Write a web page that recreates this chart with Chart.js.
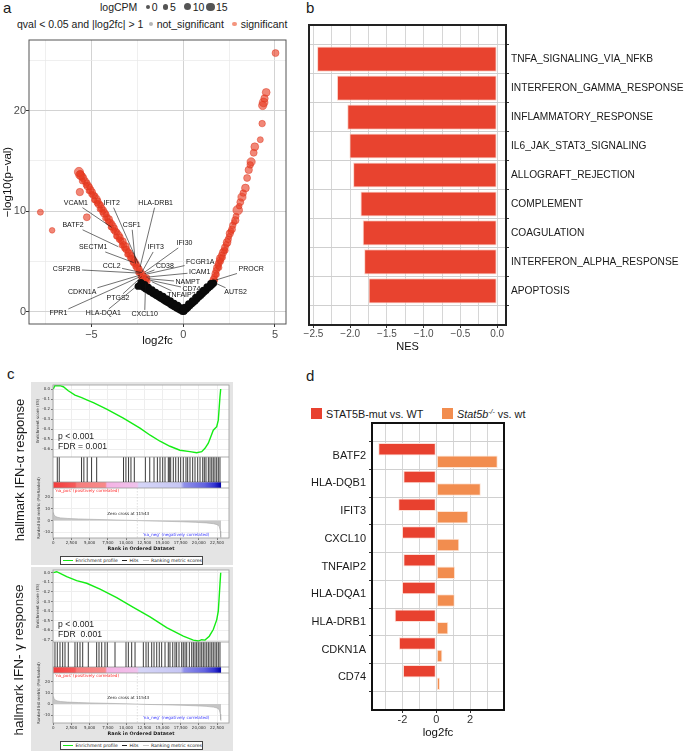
<!DOCTYPE html>
<html><head><meta charset="utf-8">
<script src="https://cdn.jsdelivr.net/npm/chart.js@4.4.1/dist/chart.umd.min.js"></script>
<style>
html,body{margin:0;padding:0}
body{width:685px;height:751px;position:relative;overflow:hidden;background:#fff;font-family:"Liberation Sans",Arial,sans-serif}
canvas{position:absolute}
.t{position:absolute;white-space:nowrap;line-height:1;color:#1a1a1a}
.bx{position:absolute}
</style></head><body>
<script>
// ================= DATA =================
// Panel a: volcano (significant points: log2fc, -log10 p, logCPM)
const sigX = [-1.95,-2.0,-2.05,-2.1,-2.15,-2.2,-2.25,-2.3,-2.35,-2.4,-2.45,-2.5,-2.55,-2.6,-2.65,-2.7,-2.75,-2.8,-2.85,-2.9,-2.95,-3.0,-3.05,-3.1,-3.15,-3.2,-3.25,-3.3,-3.35,-3.4,-3.45,-3.5,-3.55,-3.6,-3.65,-3.7,-3.75,-3.8,-3.85,-3.9,-3.95,-4.0,-4.05,-4.1,-4.15,-4.2,-4.25,-4.3,-4.35,-4.4,-4.45,-4.5,-4.55,-4.6,-4.65,-4.7,-4.75,-4.8,-4.85,-4.9,-4.95,-5.0,-5.05,-5.1,-5.15,-5.2,-5.25,-5.3,-5.35,-5.45,-5.5,-5.55,-5.6,-5.68,-5.62,
  -7.78,-7.14,-5.25,-5.63,
  1.6,1.66,1.7,1.72,1.75,1.8,1.82,1.85,1.9,1.93,1.96,1.98,2.02,2.05,2.1,2.14,2.17,2.22,2.27,2.3,2.35,2.39,2.45,2.5,2.54,2.6,2.66,2.7,2.78,2.84,2.88,2.97,3.05,3.11,3.2,3.27,3.39,3.48,3.57,3.65,3.7,3.84,3.9,4.2,4.3,4.33,4.38,4.43,4.52,5.03];
const sigY = [3.05,3.35,2.95,3.2,3.55,3.3,3.75,3.5,4.0,4.3,3.9,4.4,4.7,4.5,4.9,5.2,4.9,5.3,5.6,5.4,5.8,6.0,5.7,6.2,6.5,6.3,6.7,7.0,6.6,7.1,7.4,7.2,7.6,7.9,7.5,8.0,8.3,8.1,8.5,8.8,8.4,8.9,9.2,9.0,9.4,9.7,9.3,9.8,10.1,9.9,10.3,10.6,10.2,10.7,11.0,10.8,11.2,11.5,11.1,11.6,11.9,11.7,12.1,12.4,12.0,12.5,12.8,12.6,13.0,13.3,13.0,13.5,13.7,13.9,13.6,
  9.9,8.1,9.4,11.9,
  3.0,3.2,3.5,3.1,3.8,4.1,3.7,4.4,4.6,4.8,4.4,5.1,5.3,5.0,5.6,5.4,5.9,6.1,6.4,6.1,6.7,6.9,7.2,7.5,7.8,8.0,8.2,8.6,8.9,9.1,9.5,10.1,10.5,10.9,11.4,11.8,12.3,13.3,14.1,14.6,14.9,15.8,16.4,17.1,18.7,20.5,20.8,21.2,21.8,25.7];
const sigCPM = [6,9,5,11,7,8,10,6,9,7,5,10,8,6,11,7,5,9,8,6,10,7,5,9,11,6,8,10,5,7,9,6,12,7,5,9,8,6,11,7,5,9,10,6,8,7,5,11,8,6,9,7,5,10,8,6,12,7,5,9,8,6,10,7,5,11,8,6,9,10,7,12,9,14,13,
  7,6,9,10,
  8,10,7,6,9,8,6,10,7,9,6,8,11,6,9,7,10,8,9,6,7,11,8,6,10,7,9,8,6,10,7,15,6,9,12,8,11,9,10,8,12,9,11,7,8,12,13,10,11,9];
// not significant points
const nsX = [-0.05,-0.15,-0.25,-0.35,-0.45,-0.55,-0.65,-0.75,-0.85,-0.95,-1.05,-1.15,-1.25,-1.35,-1.45,-1.55,-1.65,-1.75,-1.85,-1.95,-2.05,-2.15,-2.25,-2.35,
  -0.1,-0.3,-0.5,-0.7,-0.9,-1.1,-1.3,-1.5,-1.7,-1.9,-2.1,-2.3,-2.45,
  0.05,0.15,0.25,0.35,0.45,0.55,0.65,0.75,0.85,0.95,1.05,1.15,1.25,1.35,1.45,1.55,1.65,
  0.1,0.3,0.5,0.7,0.9,1.1,1.3,1.5, 0,-0.02,0.02];
const nsY = [0.1,0.2,0.3,0.4,0.5,0.62,0.72,0.85,0.95,1.07,1.18,1.3,1.4,1.52,1.63,1.75,1.86,1.97,2.08,2.2,2.3,2.42,2.55,2.65,
  0.4,0.65,0.85,1.1,1.3,1.55,1.75,1.95,2.2,2.45,2.7,2.9,2.55,
  0.1,0.27,0.43,0.6,0.78,0.95,1.12,1.3,1.47,1.64,1.82,1.99,2.16,2.34,2.51,2.68,2.85,
  0.45,0.8,1.1,1.45,1.8,2.15,2.5,2.8, 0.05,0.3,0.3];
const volcXTicks = [-7.5,-5,-2.5,0,2.5,5];
const volcXLabels = ['','\u22125','','0','','5'];
const volcYTicks = [0,5,10,15,20,25];
const volcYLabels = ['0','','10','','20',''];
// gene labels: text position and labelled point (data units)
const geneNames = ['VCAM1','IFIT2','HLA-DRB1','BATF2','CSF1','SECTM1','IFIT3','IFI30','CSF2RB','CCL2','CD38','FCGR1A','ICAM1','PROCR','NAMPT','CD74','AUTS2','TNFAIP2','CDKN1A','PTGS2','FPR1','HLA-DQA1','CXCL10'];
const geneTextX = [-5.85,-3.9,-1.5,-6.0,-2.8,-4.9,-1.5,0.07,-6.35,-3.9,-1.0,0.93,0.9,3.7,0.25,0.45,2.85,-0.1,-5.5,-3.55,-6.8,-4.35,-2.1];
const geneTextY = [10.8,10.8,10.8,8.6,8.6,6.4,6.4,6.8,4.25,4.55,4.55,4.95,3.95,4.25,2.95,2.25,1.95,1.65,1.95,1.35,-0.15,-0.15,-0.25];
const genePtX = [-3.9,-2.45,-2.35,-3.53,-2.6,-2.7,-2.25,-2.1,-2.35,-2.25,-2.1,-2.0,-2.0,1.75,-1.9,-1.8,1.64,-1.71,-2.35,-2.26,-2.35,-2.35,-2.05];
const genePtY = [8.4,4.8,4.45,6.47,4.8,4.9,3.95,3.95,3.85,3.9,3.8,3.75,3.45,3.15,3.3,3.15,2.95,3.0,3.65,3.5,3.5,2.83,2.85];

// Panel b: GSEA hallmark NES
const pathways = ['TNFA_SIGNALING_VIA_NFKB','INTERFERON_GAMMA_RESPONSE','INFLAMMATORY_RESPONSE','IL6_JAK_STAT3_SIGNALING','ALLOGRAFT_REJECTION','COMPLEMENT','COAGULATION','INTERFERON_ALPHA_RESPONSE','APOPTOSIS'];
const nesValues = [-2.45,-2.18,-2.04,-2.01,-1.96,-1.86,-1.83,-1.81,-1.75];
const nesTicks = [-2.5,-2.25,-2,-1.75,-1.5,-1.25,-1,-0.75,-0.5,-0.25,0];
const nesLabels = ['\u22122.5','','\u22122.0','','\u22121.5','','\u22121.0','','\u22120.5','','0.0'];

// Panel c: GSEA enrichment plots
const rankTicks = [0,2500,5000,7500,10000,12500,15000,17500,20000,22500];
const esRankA = [0,230,920,1380,2060,2980,3900,4670,5500,7330,9620,11910,13310,14660,16030,17400,18780,19700,20390,20840,21300,21980,22450,22670,22900,23000];
const esA = [0,0.035,0.033,0.023,-0.017,-0.06,-0.086,-0.11,-0.136,-0.2,-0.29,-0.39,-0.46,-0.52,-0.57,-0.61,-0.624,-0.634,-0.624,-0.59,-0.54,-0.41,-0.375,-0.31,-0.077,0];
const hitsA = [550,820,3880,4200,4660,5260,5960,9650,9980,10340,10670,11130,12650,13250,13840,14300,14660,15030,15350,15800,15940,16130,16490,16820,17180,17500,17860,18230,18460,18780,19150,19470,19840,20160,20530,20750,20980,21300,21530,21770,21980,22210,22450,22670,22900];
const esTicksA = [0,-0.1,-0.2,-0.3,-0.4,-0.5,-0.6];
const esRankG = [0,470,1150,1840,3210,4590,6420,8710,11000,13290,15580,17860,19240,19920,20390,20840,21430,21980,22450,22670,22900,23000];
const esG = [0,0.01,-0.014,-0.042,-0.083,-0.11,-0.17,-0.26,-0.36,-0.46,-0.57,-0.66,-0.70,-0.71,-0.696,-0.70,-0.66,-0.59,-0.49,-0.40,-0.12,0];
const hitsG = [230,550,920,1290,1610,2060,2980,3300,3670,4040,4810,5960,6280,6650,7100,7420,8480,9990,10310,10770,11230,12370,12740,13050,13520,13840,14210,14560,14890,15350,15800,16030,16410,16720,16950,17270,17640,17860,18100,18330,18690,19020,19240,19470,19700,19920,20160,20390,20610,20840,21080,21300,21530,21770,21980,22220,22450,22670,22900];
const esTicksG = [0,-0.1,-0.2,-0.3,-0.4,-0.5,-0.6,-0.7];
const rankX = [0,100,300,600,1000,2000,3500,5000,7500,10000,11543,13000,15000,17500,19500,21000,22000,22500,22800,22950,23000,23050];
const rankY = [7,5,3.5,2.8,2.3,1.8,1.4,1.1,0.7,0.3,0,-0.3,-0.6,-1.0,-1.5,-2.0,-2.7,-3.5,-5,-9,-14,-15];
const rankMetricTicks = [-10,0,10,20];
const zeroCross = 11543;
const listSize = 23050;
const barStopPos = [0,0.13,0.14,0.31,0.32,0.5,0.51,0.76,0.78,0.9,0.96,1];
const barStopCol = ['#f43c3c','#f65a5a','#f77c7c','#f98a8a','#f5b2e4','#f0c2ec','#d6d6f8','#c6c6f4','#9090ea','#6464e0','#3434d2','#0000a8'];

// Panel d: selected genes log2fc
const genesD = ['BATF2','HLA-DQB1','IFIT3','CXCL10','TNFAIP2','HLA-DQA1','HLA-DRB1','CDKN1A','CD74'];
const mutFC = [-3.43,-1.95,-2.25,-2.03,-1.95,-2.03,-2.46,-2.21,-1.97];
const koFC = [3.63,2.63,1.89,1.36,1.11,1.09,0.71,0.36,0.22];
const dTicks = [-3,-2,-1,0,1,2,3];
const dLabels = ['','-2','','0','','2',''];

// ================= HELPERS =================
Chart.defaults.font.family = '"Liberation Sans", Arial, sans-serif';
Chart.defaults.color = '#222';
Chart.defaults.animation = false;
Chart.defaults.events = [];
Chart.defaults.layout.autoPadding = false;
Chart.defaults.plugins.legend.display = false;
Chart.defaults.plugins.tooltip.enabled = false;

function mk(left, top, w, h, cfg){
  const c = document.createElement('canvas');
  c.width = w; c.height = h; c.style.left = left+'px'; c.style.top = top+'px';
  c.style.width = w+'px'; c.style.height = h+'px';
  document.body.appendChild(c);
  cfg.options = cfg.options || {};
  cfg.options.responsive = false;
  cfg.options.maintainAspectRatio = false;
  cfg.options.devicePixelRatio = 1;
  return new Chart(c, cfg);
}
function zp(s){ s.paddingLeft=0; s.paddingRight=0; s.paddingTop=0; s.paddingBottom=0; }
function setTicks(arr){ return s => { s.ticks = arr.map(v => ({value:v})); }; }
function frame(color, lw, id){ return {id:id||'frame', afterDraw(c){ const a=c.chartArea, x=c.ctx; x.save(); x.strokeStyle=color; x.lineWidth=lw; x.strokeRect(a.left, a.top, a.right-a.left, a.bottom-a.top); x.restore(); }}; }
const whiteBg = {id:'whiteBg', beforeDraw(c){ const a=c.chartArea, x=c.ctx; x.save(); x.fillStyle='#fff'; x.fillRect(a.left, a.top, a.right-a.left, a.bottom-a.top); x.restore(); }};
function el(tag, css, html){ const d=document.createElement(tag); d.style.cssText=css; if(html!==undefined) d.innerHTML=html; document.body.appendChild(d); return d; }
function txt(s, x, base, size, o){
  o = o || {};
  const d = document.createElement('div'); d.className='t'; d.innerHTML = s;
  d.style.fontSize = size+'px'; d.style.left = x+'px'; d.style.top = (base-0.8465*size)+'px';
  if(o.anchor==='middle') d.style.transform='translateX(-50%)';
  if(o.anchor==='end') d.style.transform='translateX(-100%)';
  if(o.color) d.style.color=o.color; if(o.weight) d.style.fontWeight=o.weight;
  if(o.family) d.style.fontFamily=o.family; if(o.style) d.style.fontStyle=o.style;
  document.body.appendChild(d); return d;
}
function vtxt(s, cx, cy, size, o){
  o = o || {};
  const d = document.createElement('div'); d.className='t'; d.innerHTML = s;
  d.style.fontSize = size+'px'; d.style.left = cx+'px'; d.style.top = cy+'px';
  d.style.transform = 'translate(-50%,-50%) rotate(-90deg)';
  if(o.color) d.style.color=o.color; if(o.family) d.style.fontFamily=o.family;
  document.body.appendChild(d); return d;
}
function dot(cx, cy, r, col){ el('div', `position:absolute;left:${cx-r}px;top:${cy-r}px;width:${2*r}px;height:${2*r}px;border-radius:50%;background:${col}`); }

// ================= PANEL LABELS =================
txt('a', 3, 12.7, 15);
txt('b', 306, 13, 15);
txt('c', 7, 378.5, 15);
txt('d', 306, 381, 15);

// ================= PANEL A =================
txt('logCPM', 100, 10.7, 10.5, {color:'#222'});
dot(147.7, 6.8, 2, '#555'); txt('0', 151.7, 10.7, 10.5);
dot(165.7, 6.8, 2.8, '#555'); txt('5', 170, 10.7, 10.5);
dot(187.7, 6.8, 3.6, '#555'); txt('10', 192.7, 10.7, 10.5);
dot(210.7, 6.8, 4.3, '#555'); txt('15', 216, 10.7, 10.5);
txt('qval &lt; 0.05 and |log2fc| &gt; 1', 17, 27.5, 10.5);
dot(151, 24, 2.4, '#b5b5b5'); txt('not_significant', 156.7, 27.5, 10.5);
dot(234.3, 24, 2.4, '#f4957e'); txt('significant', 240.7, 27.5, 10.5);

const gridMaj = (majors) => ({
  color: c => (c.tick && majors.includes(c.tick.value)) ? '#d3d3d3' : '#e8e8e8',
  lineWidth: c => (c.tick && majors.includes(c.tick.value)) ? 1 : 0.7,
  tickColor: c => (c.tick && majors.includes(c.tick.value)) ? '#333' : 'rgba(0,0,0,0)',
  tickLength: 3
});
const geneLabelPlugin = {id:'geneLabels', afterDatasetsDraw(chart){
  const ctx = chart.ctx, xs = chart.scales.x, ys = chart.scales.y;
  ctx.save();
  ctx.font = '7px "Liberation Sans", Arial, sans-serif';
  ctx.textAlign = 'center'; ctx.textBaseline = 'middle';
  ctx.strokeStyle = '#111'; ctx.lineWidth = 0.6; ctx.fillStyle = '#111';
  geneNames.forEach((g, i) => {
    const tx = xs.getPixelForValue(geneTextX[i]), ty = ys.getPixelForValue(geneTextY[i]);
    const px = xs.getPixelForValue(genePtX[i]), py = ys.getPixelForValue(genePtY[i]);
    const hw = ctx.measureText(g).width/2 + 1.5, hh = 4.5;
    const dx = px - tx, dy = py - ty;
    const t = Math.min(dx ? hw/Math.abs(dx) : Infinity, dy ? hh/Math.abs(dy) : Infinity);
    if (t < 1) { ctx.beginPath(); ctx.moveTo(tx+dx*t, ty+dy*t); ctx.lineTo(px, py); ctx.stroke(); }
    ctx.fillText(g, tx, ty);
  });
  ctx.restore();
}};
mk(0, 0, 300, 360, {
  type:'bubble',
  data:{datasets:[
    {data: nsX.map((x,i)=>({x, y:nsY[i], r:3.6})), backgroundColor:'#0a0a0a', borderWidth:0},
    {data: sigX.map((x,i)=>({x, y:sigY[i], r:1.5+sigCPM[i]*0.22})), backgroundColor:'rgba(232,62,36,0.62)', borderColor:'rgba(222,52,30,0.8)', borderWidth:0.6}
  ]},
  options:{
    layout:{padding:{top:40, right:14, left:0, bottom:0}},
    scales:{
      x:{type:'linear', min:-8.4, max:5.6, afterBuildTicks:setTicks(volcXTicks),
        ticks:{autoSkip:false, maxRotation:0, font:{size:11}, color:'#4d4d4d', padding:1, callback:v=>volcXLabels[volcXTicks.indexOf(v)]},
        grid:gridMaj([-5,0,5]), border:{display:false},
        title:{display:true, text:'log2fc', font:{size:11.5}, color:'#111', padding:{top:0,bottom:12}},
        afterFit(s){ s.height=36; zp(s); }},
      y:{type:'linear', min:-1.2, max:27, afterBuildTicks:setTicks(volcYTicks),
        ticks:{autoSkip:false, font:{size:11}, color:'#4d4d4d', padding:0, callback:v=>volcYLabels[volcYTicks.indexOf(v)]},
        grid:gridMaj([0,10,20]), border:{display:false},
        title:{display:true, text:'\u2212log10(p\u2212val)', font:{size:11.5}, color:'#111', padding:{top:1,bottom:0}},
        afterFit(s){ s.width=29; zp(s); }}
    }
  },
  plugins:[geneLabelPlugin, frame('#555',1)]
});

// ================= PANEL B =================
mk(300, 0, 385, 360, {
  type:'bar',
  data:{datasets:[{data: nesValues.map((v,i)=>({x:v, y:i})), backgroundColor:'#e8432f', borderColor:'#fbd6cc', borderWidth:1, borderSkipped:false, categoryPercentage:0.87, barPercentage:1}]},
  options:{
    indexAxis:'y',
    layout:{padding:{left:9, top:25, right:0, bottom:0}},
    scales:{
      x:{type:'linear', min:-2.56, max:0.12, afterBuildTicks:setTicks(nesTicks),
        ticks:{autoSkip:false, maxRotation:0, font:{size:10}, color:'#4d4d4d', padding:0, callback:v=>nesLabels[nesTicks.indexOf(v)]},
        grid:{color:'#d6d6d6', lineWidth:1, tickColor:c=>(c.tick && nesLabels[nesTicks.indexOf(c.tick.value)])?'#333':'rgba(0,0,0,0)', tickLength:3},
        border:{display:false},
        title:{display:true, text:'NES', font:{size:11}, color:'#111', padding:{top:0,bottom:6.5}},
        afterFit(s){ s.height=35; zp(s); }},
      y:{type:'linear', position:'right', reverse:true, min:-0.6, max:8.6, afterBuildTicks:setTicks([0,1,2,3,4,5,6,7,8]),
        ticks:{autoSkip:false, font:{size:10.2}, color:'#1a1a1a', padding:2, callback:v=>pathways[v]},
        grid:{color:'#cfcfcf', tickColor:'#333', tickLength:3}, border:{display:false},
        afterFit(s){ s.width=179; zp(s); }}
    }
  },
  plugins:[frame('#222',2)]
});

// ================= PANEL C =================
function gsea(T, esR, esV, esMin, esMax, esTickVals, hits, rkMin, rkMax){
  const X = extra => Object.assign({type:'linear', min:-40, max:24140, afterBuildTicks:setTicks(rankTicks)}, extra);
  // ES
  mk(30, T-2, 205, 74, {
    type:'line',
    data:{datasets:[{data: esR.map((x,i)=>({x, y:esV[i]})), borderColor:'#14ec14', borderWidth:1.4, pointRadius:0, tension:0}]},
    options:{
      layout:{padding:{top:2, right:6, left:0, bottom:0}},
      scales:{
        x:X({ticks:{display:false}, grid:{color:'#eeeeee', drawTicks:false}, border:{display:false}, afterFit(s){ s.height=0; zp(s); }}),
        y:{type:'linear', min:esMin, max:esMax, afterBuildTicks:setTicks(esTickVals),
          ticks:{autoSkip:false, font:{size:4, family:'"DejaVu Sans"'}, color:'#333', padding:1, callback:v=>v.toFixed(1)},
          grid:{color:'#eeeeee', tickLength:2, tickColor:'#777'}, border:{display:false},
          title:{display:true, text:'Enrichment score (ES)', font:{size:4, family:'"DejaVu Sans"'}, color:'#333', padding:{top:6,bottom:0}},
          afterFit(s){ s.width=23; zp(s); }}
      }
    },
    plugins:[whiteBg, frame('#9a9a9a',0.8,'f1')]
  });
  // Hits + colour bar
  const colorBar = {id:'colorBar', beforeDatasetsDraw(c){
    const ctx=c.ctx, xs=c.scales.x, ys=c.scales.y, a=c.chartArea;
    const x0=xs.getPixelForValue(0), x1=xs.getPixelForValue(listSize);
    const yTop=ys.getPixelForValue(6), yBot=ys.getPixelForValue(0);
    const g=ctx.createLinearGradient(x0,0,x1,0);
    barStopPos.forEach((p,i)=>g.addColorStop(p, barStopCol[i]));
    ctx.save(); ctx.fillStyle=g; ctx.fillRect(x0, yTop, x1-x0, yBot-yTop);
    ctx.strokeStyle='#9a9a9a'; ctx.lineWidth=0.8;
    ctx.beginPath(); ctx.moveTo(a.left, yTop); ctx.lineTo(a.right, yTop); ctx.stroke();
    ctx.restore();
  }};
  mk(30, T+72, 205, 31, {
    type:'scatter',
    data:{datasets:[{data: hits.map(x=>({x, y:18.5})), pointStyle:'line', pointRotation:90, pointRadius:12.5, pointBorderWidth:1, pointBorderColor:'rgba(15,15,15,0.82)', borderColor:'rgba(15,15,15,0.82)', clip:false}]},
    options:{
      layout:{autoPadding:false, padding:{top:0, right:6, left:23, bottom:0}},
      scales:{ x:X({display:false}), y:{type:'linear', display:false, min:0, max:31} }
    },
    plugins:[whiteBg, colorBar, frame('#9a9a9a',0.8,'f2')]
  });
  // Ranked list metric
  const rankDecor = {id:'rankDecor', afterDatasetsDraw(c){
    const ctx=c.ctx, xs=c.scales.x, ys=c.scales.y, a=c.chartArea;
    ctx.save();
    ctx.strokeStyle='#c8c8c8'; ctx.lineWidth=0.6; ctx.setLineDash([1.5,1.5]);
    const zx=xs.getPixelForValue(zeroCross);
    ctx.beginPath(); ctx.moveTo(zx, a.top); ctx.lineTo(zx, a.bottom); ctx.stroke();
    ctx.setLineDash([]);
    ctx.font='4.2px "DejaVu Sans"'; ctx.textBaseline='middle';
    ctx.fillStyle='#ff2a2a'; ctx.textAlign='left';
    ctx.fillText("'na_pos' (positively correlated)", xs.getPixelForValue(200), ys.getPixelForValue(25.5));
    ctx.fillStyle='#222'; ctx.textAlign='center';
    ctx.fillText('Zero cross at ' + zeroCross, xs.getPixelForValue(10300), ys.getPixelForValue(5.5));
    ctx.fillStyle='#3a3aff'; ctx.textAlign='left';
    ctx.fillText("'na_neg' (negatively correlated)", xs.getPixelForValue(12280), ys.getPixelForValue(-12));
    ctx.restore();
  }};
  mk(30, T+103, 205, 65, {
    type:'line',
    data:{datasets:[{data: rankX.map((x,i)=>({x, y:rankY[i]})), fill:'origin', backgroundColor:'#c6c6c6', borderColor:'#a8a8a8', borderWidth:0.6, pointRadius:0, tension:0}]},
    options:{
      layout:{padding:{top:0, right:6, left:0, bottom:0}},
      scales:{
        x:X({ticks:{autoSkip:false, maxRotation:0, font:{size:4, family:'"DejaVu Sans"'}, color:'#333', padding:1, callback:v=>v.toLocaleString('en-US')},
          grid:{color:'#eeeeee', tickLength:2, tickColor:'#777'}, border:{display:false},
          title:{display:true, text:'Rank in Ordered Dataset', font:{size:4.8, weight:'bold', family:'"DejaVu Sans"'}, color:'#222', padding:{top:0,bottom:1.5}},
          afterFit(s){ s.height=15; zp(s); }}),
        y:{type:'linear', min:rkMin, max:rkMax, afterBuildTicks:setTicks(rankMetricTicks),
          ticks:{autoSkip:false, font:{size:4, family:'"DejaVu Sans"'}, color:'#333', padding:1},
          grid:{color:'#eeeeee', tickLength:2, tickColor:'#777'}, border:{display:false},
          afterFit(s){ s.width=23; zp(s); }}
      }
    },
    plugins:[whiteBg, rankDecor, frame('#9a9a9a',0.8,'f3')]
  });
  vtxt('Ranked list metric (PreRanked)', 38.5, T+123, 4, {family:'"DejaVu Sans"', color:'#333'});
  el('div', `position:absolute;left:60px;top:${T+171}px;width:141px;height:7px;border:0.8px solid #444;background:#fff;font:4.6px "DejaVu Sans";color:#222;display:flex;align-items:center;white-space:nowrap`,
    `<span style="display:inline-block;width:15px;height:1.4px;background:#14ec14;margin:0 2px 0 2px"></span>Enrichment profile
     <span style="display:inline-block;width:8px;height:1px;background:#222;margin:0 2px 0 4px"></span>Hits
     <span style="display:inline-block;width:8px;height:1px;background:#c8c8c8;margin:0 2px 0 5px"></span>Ranking metric scores`);
}

el('div','position:absolute;left:31px;top:382px;width:202px;height:183px;background:#e4e4e4');
el('div','position:absolute;left:31px;top:567px;width:202px;height:184px;background:#e4e4e4');
gsea(385, esRankA, esA, -0.677, 0.04, esTicksA, hitsA, -15, 28);
gsea(570, esRankG, esG, -0.72, 0.028, esTicksG, hitsG, -17, 28);
txt('p &lt; 0.001', 58, 439.5, 8.6, {color:'#222'});
txt('FDR = 0.001', 58, 449.3, 8.6, {color:'#222'});
txt('p &lt; 0.001', 58, 627.5, 8.6, {color:'#222'});
txt('FDR&nbsp; 0.001', 58, 636.8, 8.6, {color:'#222'});
vtxt('hallmark IFN-\u03b1 response', 19, 470, 13);
vtxt('hallmark IFN- \u03b3 response', 19, 660, 13.5);

// ================= PANEL D =================
el('div','position:absolute;left:311px;top:408px;width:11px;height:11px;background:#e8412f');
txt('STAT5B-mut vs. WT', 326, 418.5, 10.8);
el('div','position:absolute;left:442px;top:408px;width:11px;height:11px;background:#f28d4f');
txt('<i>Stat5b</i><sup style="font-size:7px;vertical-align:4px;line-height:0"><i>-/-</i></sup> vs. wt', 457, 418.5, 10.8);
mk(280, 380, 405, 371, {
  type:'bar',
  data:{datasets:[
    {label:'STAT5B-mut vs. WT', data: mutFC.map((v,i)=>({x:v, y:i})), backgroundColor:'#e8412f', borderColor:'#fde0d8', borderWidth:1, borderSkipped:false, categoryPercentage:0.9, barPercentage:1},
    {label:'Stat5b-/- vs. wt', data: koFC.map((v,i)=>({x:v, y:i})), backgroundColor:'#f28d4f', borderColor:'#fde6d8', borderWidth:1, borderSkipped:false, categoryPercentage:0.9, barPercentage:1}
  ]},
  options:{
    indexAxis:'y',
    layout:{padding:{top:43, right:181, left:0, bottom:0}},
    scales:{
      x:{type:'linear', min:-3.8, max:4.0, afterBuildTicks:setTicks(dTicks),
        ticks:{autoSkip:false, maxRotation:0, font:{size:11}, color:'#333', padding:0, callback:v=>dLabels[dTicks.indexOf(v)]},
        grid:{color:'#d6d6d6', tickColor:c=>(c.tick && dLabels[dTicks.indexOf(c.tick.value)])?'#333':'rgba(0,0,0,0)', tickLength:3},
        border:{display:false},
        title:{display:true, text:'log2fc', font:{size:11.5}, color:'#111', padding:{top:0,bottom:11.4}},
        afterFit(s){ s.height=41; zp(s); }},
      y:{type:'linear', reverse:true, min:-0.6, max:8.6, afterBuildTicks:setTicks([0,1,2,3,4,5,6,7,8]),
        ticks:{autoSkip:false, font:{size:11}, color:'#1a1a1a', padding:3, callback:v=>genesD[v]},
        grid:{color:'#d0d0d0', tickColor:'#333', tickLength:3}, border:{display:false},
        afterFit(s){ s.width=92; zp(s); }}
    }
  },
  plugins:[frame('#111',2)]
});
</script>
</body></html>
